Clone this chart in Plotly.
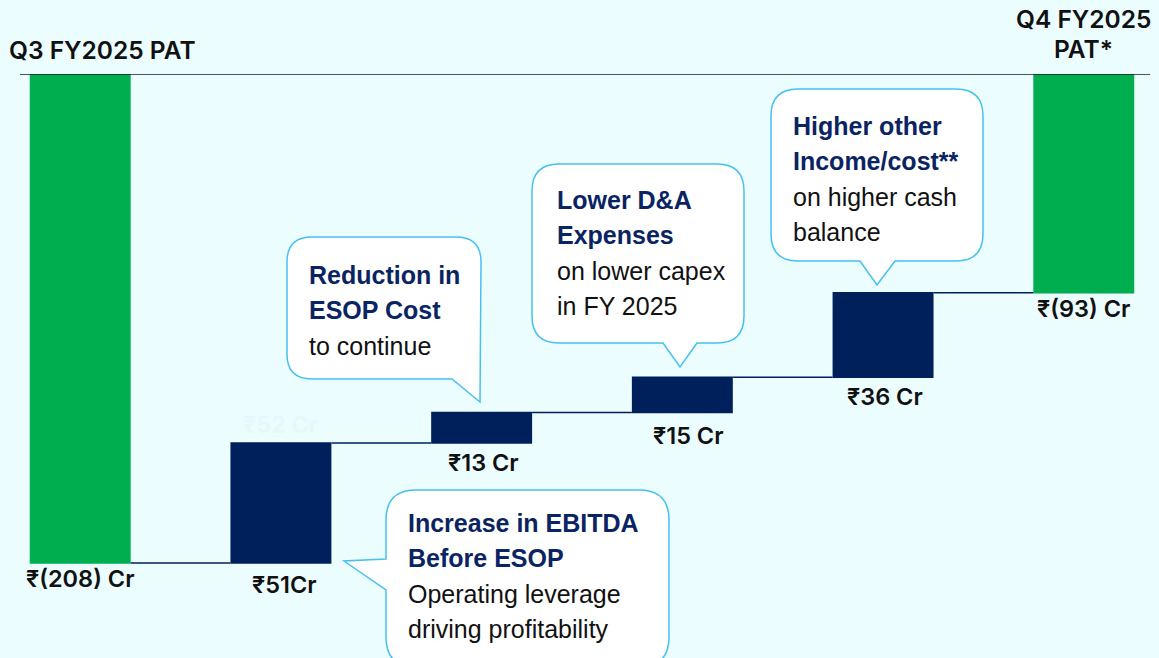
import plotly.graph_objects as go

# ---------------- data ----------------
categories = ["Q3 FY2025 PAT", "EBITDA before ESOP", "ESOP cost", "D&A", "Other income", "Q4 FY2025 PAT"]
measures = ["absolute", "relative", "relative", "relative", "relative", "total"]
values = [-208, 51, 13, 15, 36, -93]
bar_labels = ["₹(208) Cr", "₹51Cr", "₹13 Cr", "₹15 Cr", "₹36 Cr", "₹(93) Cr"]
top_labels = ["Q3 FY2025 PAT", "Q4 FY2025<br>PAT*"]
ghost_label = "₹52 Cr"

callouts = [
    (["Reduction in", "ESOP Cost"], ["to continue"]),
    (["Lower D&A", "Expenses"], ["on lower capex", "in FY 2025"]),
    (["Higher other", "Income/cost**"], ["on higher cash", "balance"]),
    (["Increase in EBITDA", "Before ESOP"], ["Operating leverage", "driving profitability"]),
]

# ---------------- style ----------------
W, H = 1159, 658
L, R, T, B = 20, 9, 74, 0
PW, PH = W - L - R, H - T - B
BG = "#ecfdff"
GREEN = "#00ad4f"
NAVY = "#00205b"
TXT_NAVY = "#0a2463"
BORDER = "#45c1f0"
YMIN = -248.4
LABEL_FONT = "Inter, Noto Sans, sans-serif"

def pp(px, py):
    return ((px - L) / PW, 1 - (py - T) / PH)

def path_from(cmds):
    out = []
    for c in cmds:
        s = c[0]
        for (x, y) in c[1:]:
            a, b = pp(x, y)
            s += f" {a:.5f},{b:.5f}"
        out.append(s)
    return " ".join(out) + " Z"

fig = go.Figure()
x = list(range(len(categories)))
fig.add_trace(go.Waterfall(
    x=x, y=values, measure=measures, base=0,
    width=[0.503] * len(x),
    increasing=dict(marker=dict(color=NAVY)),
    decreasing=dict(marker=dict(color=NAVY)),
    totals=dict(marker=dict(color=GREEN)),
    connector=dict(mode="between", line=dict(color=NAVY, width=1.5)),
    textposition="none", hoverinfo="skip",
))

# running levels for label placement
levels = []
run = 0
for m, v in zip(measures, values):
    if m == "absolute":
        start, end = 0, v
        run = v
    elif m == "total":
        start, end = 0, run
    else:
        start, end = run, run + v
        run = run + v
    levels.append((start, end))

ann = []
offsets = [-1, 5, 3, 6, 3, -1]
xnudge = [0, 0.02, 0.01, 0.03, 0.01, 0]
for i, (lab, (s, e)) in enumerate(zip(bar_labels, levels)):
    bottom = min(s, e)
    ann.append(dict(x=i + xnudge[i], y=bottom, xref="x", yref="y",
                    text=lab, showarrow=False, yanchor="top", yshift=-offsets[i],
                    font=dict(family=LABEL_FONT, size=23.5, color="#111111", weight=600)))

# ghost label
ann.append(dict(x=1, y=levels[1][1], xref="x", yref="y", text=ghost_label, showarrow=False,
                yanchor="bottom", yshift=2,
                font=dict(family=LABEL_FONT, size=23.5, color="#e5f8fc", weight=600)))

# top labels (pixel positions converted to paper)
tx, ty = pp(7, 50)
ann.append(dict(x=tx, y=ty, xref="paper", yref="paper", text=top_labels[0],
                showarrow=False, xanchor="left", yanchor="middle",
                font=dict(family=LABEL_FONT, size=24.5, color="#111111", weight=600)))
for j, line in enumerate(top_labels[1].split("<br>")):
    _, yy = pp(0, 19 + 30 * j)
    ann.append(dict(x=5, y=yy, xref="x", yref="paper", text=line,
                    showarrow=False, xanchor="center", yanchor="middle",
                    font=dict(family=LABEL_FONT, size=24.5, color="#111111", weight=600)))

# callout boxes
shapes = []
def rbox(l, t, r, b, rad, pointer_side, pts):
    c = [("M", (l + rad, t)), ("L", (r - rad, t)), ("Q", (r, t), (r, t + rad))]
    if pointer_side == "right-bottom":
        c += [("L", pts[0]), ("L", pts[1]), ("L", (l + rad, b)), ("Q", (l, b), (l, b - rad)),
              ("L", (l, t + rad)), ("Q", (l, t), (l + rad, t))]
    elif pointer_side == "bottom":
        c += [("L", (r, b - rad)), ("Q", (r, b), (r - rad, b))]
        c += [("L", p) for p in pts]
        c += [("L", (l + rad, b)), ("Q", (l, b), (l, b - rad)), ("L", (l, t + rad)), ("Q", (l, t), (l + rad, t))]
    elif pointer_side == "left":
        c += [("L", (r, b - rad)), ("Q", (r, b), (r - rad, b)), ("L", (l + rad, b)), ("Q", (l, b), (l, b - rad))]
        c += [("L", p) for p in pts]
        c += [("L", (l, t + rad)), ("Q", (l, t), (l + rad, t))]
    return c

boxes = [
    rbox(287, 237, 481, 379, 25, "right-bottom", [(480, 402), (452, 379)]),
    rbox(532, 164, 744, 343, 27, "bottom", [(697, 343), (680, 367), (663, 343)]),
    rbox(771, 89, 983, 261, 27, "bottom", [(895, 261), (877, 285), (860, 261)]),
    rbox(386, 490, 669, 667, 30, "left", [(386, 590), (344, 561), (386, 559)]),
]
for bx in boxes:
    shapes.append(dict(type="path", path=path_from(bx), xref="paper", yref="paper",
                       fillcolor="white", line=dict(color=BORDER, width=1.5), layer="above"))

text_pos = [(307, 275), (555, 200), (791, 126), (406, 523)]
LH = 35.3
for (bold_lines, reg_lines), (cx, cy) in zip(callouts, text_pos):
    for k, line in enumerate(bold_lines + reg_lines):
        is_bold = k < len(bold_lines)
        a, b = pp(cx, cy + k * LH)
        ann.append(dict(x=a, y=b, xref="paper", yref="paper",
                        text=f"<b>{line}</b>" if is_bold else line, showarrow=False,
                        xanchor="left", yanchor="middle",
                        font=dict(family="Liberation Sans, Arial, sans-serif", size=25,
                                  color=TXT_NAVY if is_bold else "#111111")))

# zero line
shapes.append(dict(type="line", xref="paper", yref="y", x0=0, x1=1, y0=0, y1=0,
                   line=dict(color="#1a1a1a", width=1.5), layer="above"))

fig.update_layout(
    width=W, height=H, margin=dict(l=L, r=R, t=T, b=B),
    paper_bgcolor=BG, plot_bgcolor=BG, showlegend=False,
    xaxis=dict(range=[-0.30, 5.33], visible=False, fixedrange=True),
    yaxis=dict(range=[YMIN, 0], visible=False, fixedrange=True),
    annotations=ann, shapes=shapes,
)
fig.write_html("out.html", config={"displayModeBar": False},
               post_script="document.body.style.margin='0';document.body.style.background='#ecfdff';document.body.style.overflow='hidden';")
